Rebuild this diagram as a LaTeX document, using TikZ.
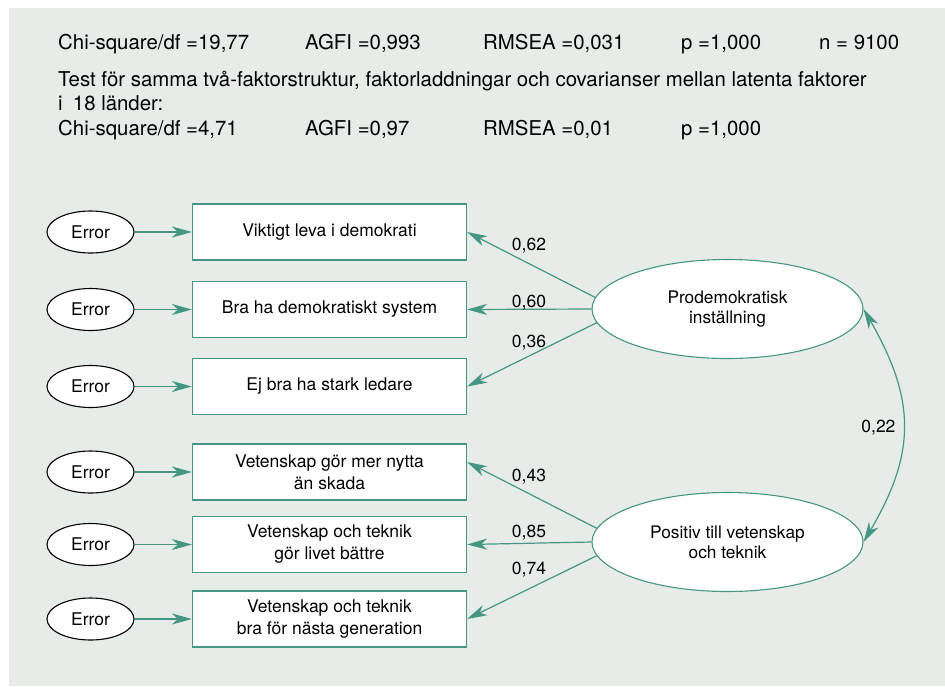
\documentclass[tikz,border=0pt]{standalone}
\usepackage{fontspec}
\setmainfont{TeX Gyre Heros}
\usepackage{tikz}
\usetikzlibrary{arrows.meta}
\usetikzlibrary{shapes.geometric}
\definecolor{panel}{RGB}{231,236,233}
\definecolor{semteal}{RGB}{70,150,132}

\begin{document}
\begin{tikzpicture}[x=1pt,y=-1pt,
    every node/.style={font=\fontsize{17.5}{22}\selectfont},
    itembox/.style={draw=semteal,line width=1.2pt,fill=white,minimum width=274pt,minimum height=56pt,align=center,inner sep=2pt},
    errnode/.style={ellipse,draw=black,line width=1.1pt,fill=white,minimum width=87pt,minimum height=42pt,inner sep=0pt},
    factor/.style={ellipse,draw=semteal,line width=1.1pt,fill=white,minimum width=271pt,minimum height=99pt,align=center,font=\fontsize{17.3}{20}\selectfont},
    link/.style={draw=semteal,line width=1.2pt,-{Stealth[length=20pt,width=11pt,inset=6pt]}},
    stat/.style={anchor=base west,inner sep=0pt,font=\fontsize{20.4}{25}\selectfont}]
    \useasboundingbox (0,0) rectangle (945,686);
    \fill[panel] (9,8) rectangle (945,686);

    % fit statistics
    \node[stat] (chiA) at (58,49) {Chi-square/df =19,77};
    \node[stat] (agfiA) at (305,49) {AGFI =0,993};
    \node[stat] (rmseaA) at (483,49) {RMSEA =0,031};
    \node[stat] (pA) at (681,49) {p =1,000};
    \node[stat] (nA) at (819,49) {n = 9100};
    \node[stat] (test) at (58,86) {Test för samma två-faktorstruktur, faktorladdningar och covarianser mellan latenta faktorer};
    \node[stat] (land) at (58,110) {i\enspace 18 länder:};
    \node[stat] (chiB) at (58,135) {Chi-square/df =4,71};
    \node[stat] (agfiB) at (305,135) {AGFI =0,97};
    \node[stat] (rmseaB) at (483,135) {RMSEA =0,01};
    \node[stat] (pB) at (681,135) {p =1,000};

    % observed items
    \node[itembox] (b1) at (329.5,232) {Viktigt leva i demokrati};
    \node[itembox] (b2) at (329.5,309.5) {Bra ha demokratiskt system};
    \node[itembox] (b3) at (329.5,386.5) {Ej bra ha stark ledare};
    \node[itembox] (b4) at (329.5,472) {Vetenskap gör mer nytta\\än skada};
    \node[itembox] (b5) at (329.5,544.5) {Vetenskap och teknik\\gör livet bättre};
    \node[itembox] (b6) at (329.5,619) {Vetenskap och teknik\\bra för nästa generation};

    % error terms
    \node[errnode] (e1) at (90.5,232) {Error};
    \node[errnode] (e2) at (90.5,309.5) {Error};
    \node[errnode] (e3) at (90.5,386.5) {Error};
    \node[errnode] (e4) at (90.5,472) {Error};
    \node[errnode] (e5) at (90.5,544.5) {Error};
    \node[errnode] (e6) at (90.5,619) {Error};
    \draw[link] (e1) -- (b1);
    \draw[link] (e2) -- (b2);
    \draw[link] (e3) -- (b3);
    \draw[link] (e4) -- (b4);
    \draw[link] (e5) -- (b5);
    \draw[link] (e6) -- (b6);

    % latent factors
    \node[factor] (pro) at (727.5,309) {Prodemokratisk\\inställning};
    \node[factor] (pos) at (727.5,542) {Positiv till vetenskap\\och teknik};
    \coordinate (t4) at (467,462);

    \draw[link] (pro.175) -- (b1.east);
    \draw[link] (pro.west) -- (b2.east);
    \draw[link] (pro.186) -- (b3.east);
    \draw[link] (pos.174) -- (t4);
    \draw[link] (pos.west) -- (b5.east);
    \draw[link] (pos.186) -- (b6.east);
    \node (l62) at (529,246) {0,62};
    \node (l60) at (529,303) {0,60};
    \node (l36) at (529,343) {0,36};
    \node (l43) at (529,477) {0,43};
    \node (l85) at (529,533) {0,85};
    \node (l74) at (529,570) {0,74};

    % covariance
    \draw[link,{Stealth[length=20pt,width=11pt,inset=6pt]}-{Stealth[length=20pt,width=11pt,inset=6pt]}]
      (pro.east) .. controls (916,400) and (916,453) .. (pos.east);
    \node[anchor=east] (l22) at (899,428) {0,22};
\end{tikzpicture}
\end{document}
